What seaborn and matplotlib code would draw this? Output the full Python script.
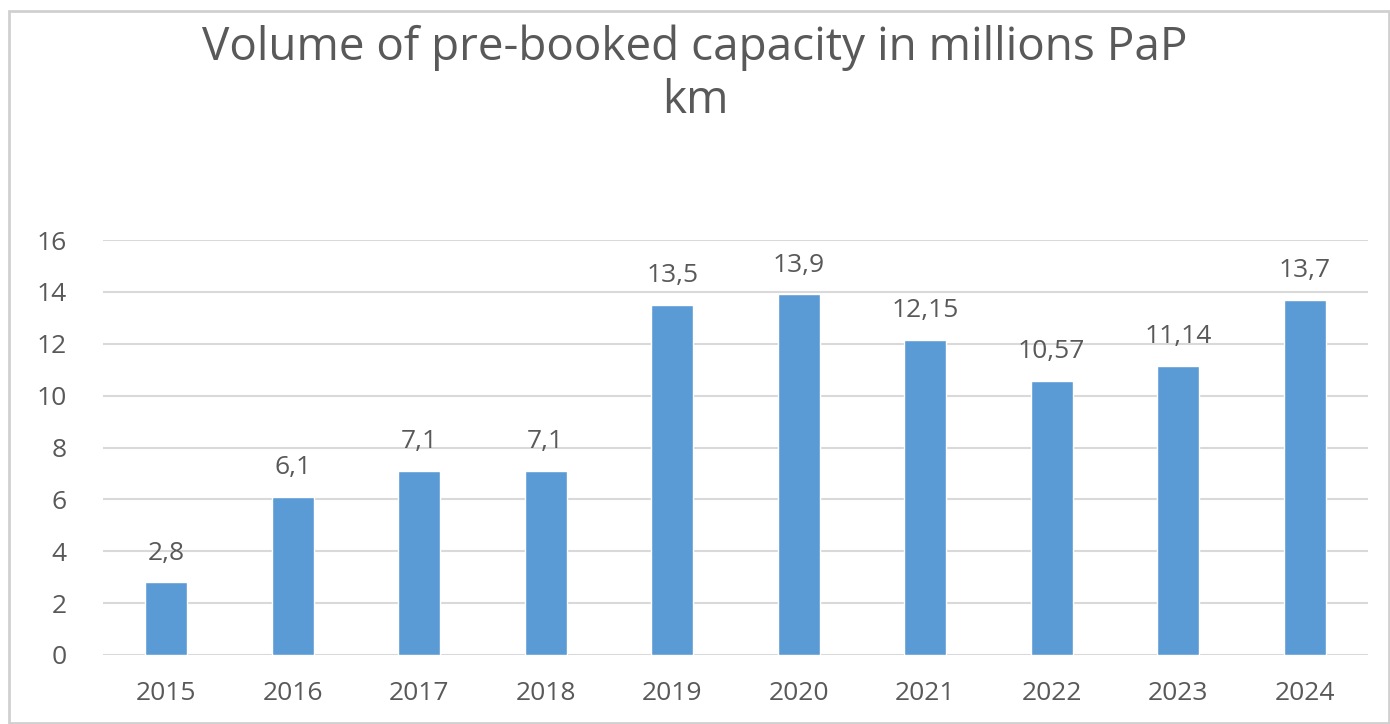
import numpy as np
import pandas as pd
import seaborn as sns
from matplotlib import pyplot as plt
from matplotlib.patches import Rectangle

years = ['2015', '2016', '2017', '2018', '2019', '2020', '2021', '2022', '2023', '2024']
volume = [2.8, 6.1, 7.1, 7.1, 13.5, 13.9, 12.15, 10.57, 11.14, 13.7]
y_ticks = [0, 2, 4, 6, 8, 10, 12, 14, 16]

df = pd.DataFrame({'year': years, 'volume': volume})

sns.set_style('white')
plt.rcParams['font.family'] = ['Open Sans', 'DejaVu Sans']

txt = '#595959'
fig = plt.figure(figsize=(13.9, 7.24), dpi=100)
W, H = 1390, 724
ax = fig.add_axes([103 / W, 1 - 655 / H, (1368 - 103) / W, (655 - 240) / H])

sns.barplot(data=df, x='year', y='volume', color='#5B9BD5', width=0.33,
            saturation=1, ax=ax, zorder=3)

ax.set_ylim(0, 16)
ax.set_xlim(-0.5, len(years) - 0.5)
ax.set_yticks(y_ticks)
ax.set_yticklabels([str(t) for t in y_ticks])
ax.yaxis.grid(True, color='#d9d9d9', linewidth=1.5, zorder=0)
ax.set_axisbelow(True)
for s in ax.spines.values():
    s.set_visible(False)
ax.tick_params(axis='both', length=0, labelsize=19, colors=txt)
ax.tick_params(axis='x', pad=19)
ax.tick_params(axis='y', pad=26)
ax.set_xlabel('')
ax.set_ylabel('')

# value labels with decimal comma
labels = [str(v).replace('.', ',') for v in volume]
ax.bar_label(ax.containers[0], labels=labels, padding=12, fontsize=19, color=txt)

fig.text(0.5, 1 - 48 / H, 'Volume of pre-booked capacity in millions PaP',
         ha='center', va='center', fontsize=33, color=txt)
fig.text(0.5, 1 - 101 / H, 'km', ha='center', va='center', fontsize=33, color=txt)

fig.patches.append(Rectangle((9 / W, 1 / H), (W - 10) / W, (H - 12) / H,
                             transform=fig.transFigure, fill=False,
                             edgecolor='#d0d0d0', linewidth=2))

fig.savefig('out.png', dpi=100)
